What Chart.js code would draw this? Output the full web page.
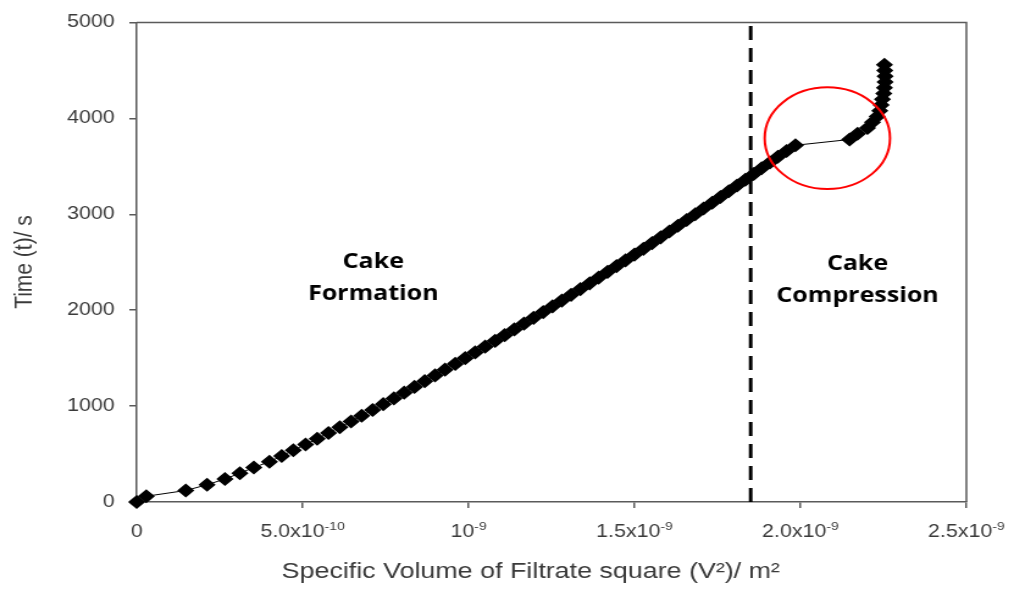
<!DOCTYPE html>
<html>
<head>
<meta charset="utf-8">
<script src="https://cdn.jsdelivr.net/npm/chart.js@4/dist/chart.umd.min.js"></script>
<style>
  html, body { margin: 0; padding: 0; background: #ffffff; overflow: hidden; }
  /* the figure is laid out narrower and widened horizontally */
  #wrap { position: absolute; left: 0; top: 0; width: 831px; height: 600px;
          transform: scaleX(1.2202); transform-origin: 0 0; }
</style>
</head>
<body>
<div id="wrap"><canvas id="c"></canvas></div>
<script>
// Filtration time t (s) against squared specific filtrate volume V² (m², in units of 1e-9)

// cake formation stage
const formationTime = [
  0, 60, 120, 180, 240, 300, 360, 420, 480, 540,
  600, 660, 720, 780, 840, 900, 960, 1020, 1080, 1140,
  1200, 1260, 1320, 1380, 1440, 1500, 1560, 1620, 1680, 1740,
  1800, 1860, 1920, 1980, 2040, 2100, 2160, 2220, 2280, 2340,
  2400, 2460, 2520, 2580, 2640, 2700, 2760, 2820, 2880, 2940,
  3000, 3060, 3120, 3180, 3240, 3300, 3360, 3420, 3480, 3540,
  3600, 3660, 3720
];
const formationVolSq = [
  0.000, 0.029, 0.148, 0.212, 0.266, 0.311, 0.353, 0.400, 0.437, 0.472,
  0.509, 0.544, 0.578, 0.612, 0.646, 0.678, 0.711, 0.743, 0.775, 0.806,
  0.837, 0.868, 0.899, 0.929, 0.960, 0.990, 1.020, 1.050, 1.080, 1.109,
  1.138, 1.167, 1.196, 1.225, 1.253, 1.281, 1.309, 1.337, 1.365, 1.392,
  1.419, 1.446, 1.473, 1.500, 1.527, 1.553, 1.579, 1.605, 1.631, 1.657,
  1.683, 1.708, 1.734, 1.759, 1.784, 1.809, 1.834, 1.859, 1.883, 1.908,
  1.932, 1.958, 1.985
];

// cake compression stage
const compressionTime = [
  3780, 3840, 3900, 3960, 4020, 4080, 4140, 4200, 4260, 4320, 4380, 4440, 4500, 4560
];
const compressionVolSq = [
  2.148, 2.172, 2.202, 2.217, 2.231, 2.239, 2.243, 2.247, 2.251, 2.253, 2.255, 2.255, 2.254, 2.253
];

// boundary between the two stages (m²)
const stageBoundary = [1.85e-9];

// axis ticks
const xTickValues = [0, 5e-10, 1e-9, 1.5e-9, 2e-9, 2.5e-9];
const xTickBase   = ['0', '5.0x10', '10', '1.5x10', '2.0x10', '2.5x10'];
const xTickExp    = ['', '-10', '-9', '-9', '-9', '-9'];
const yTickValues = [0, 1000, 2000, 3000, 4000, 5000];

// text
const xTitle = 'Specific Volume of Filtrate square (V\u00B2)/ m\u00B2';
const yTitle = 'Time (t)/ s';
const regionLabels = [
  { lines: ['Cake', 'Formation'],   x: 0.713e-9, y: 2330 },
  { lines: ['Cake', 'Compression'], x: 2.172e-9, y: 2315 }
];

// ring drawn around the jump between the stages (data units)
const ring = { cx: 2.081e-9, cy: 3794, rx: 0.1888e-9, ry: 530 };

const AXIS = '#5a5a5a';
const TEXT = '#3a3a3a';

const points = formationVolSq.map((v, i) => ({ x: v * 1e-9, y: formationTime[i] }))
  .concat(compressionVolSq.map((v, i) => ({ x: v * 1e-9, y: compressionTime[i] })));

const boundaryLine = [
  { x: stageBoundary[0], y: yTickValues[0] },
  { x: stageBoundary[0], y: yTickValues[yTickValues.length - 1] }
];

const decorations = {
  id: 'decorations',
  afterDatasetsDraw(chart) {
    const { ctx, scales: { x, y } } = chart;
    ctx.save();
    // red ring
    const cx = x.getPixelForValue(ring.cx), cy = y.getPixelForValue(ring.cy);
    const rx = Math.abs(x.getPixelForValue(ring.cx + ring.rx) - cx);
    const ry = Math.abs(y.getPixelForValue(ring.cy + ring.ry) - cy);
    ctx.beginPath();
    ctx.ellipse(cx, cy, rx, ry, 0, 0, Math.PI * 2);
    ctx.strokeStyle = '#ff0000';
    ctx.lineWidth = 2;
    ctx.stroke();
    // stage labels
    ctx.fillStyle = '#000000';
    ctx.font = '700 20.5px "Open Sans"';
    ctx.textAlign = 'center';
    ctx.textBaseline = 'middle';
    regionLabels.forEach(l => {
      const px = x.getPixelForValue(l.x), py = y.getPixelForValue(l.y);
      l.lines.forEach((s, i) => ctx.fillText(s, px, py + (i - (l.lines.length - 1) / 2) * 32));
    });
    ctx.restore();
  },
  afterDraw(chart) {
    const { ctx, chartArea: a, scales: { x } } = chart;
    ctx.save();
    // top and right edges of the plot frame
    ctx.strokeStyle = AXIS;
    ctx.lineWidth = 1.5;
    ctx.beginPath();
    ctx.moveTo(a.left, a.top);
    ctx.lineTo(a.right, a.top);
    ctx.lineTo(a.right, a.bottom);
    ctx.stroke();
    // x tick labels with raised exponents
    ctx.fillStyle = TEXT;
    ctx.textAlign = 'left';
    ctx.textBaseline = 'alphabetic';
    xTickValues.forEach((v, i) => {
      ctx.font = '17.5px "Liberation Sans"';
      const wb = ctx.measureText(xTickBase[i]).width;
      ctx.font = '11.5px "Liberation Sans"';
      const we = ctx.measureText(xTickExp[i]).width;
      const x0 = x.getPixelForValue(v) - (wb + we) / 2;
      ctx.font = '17.5px "Liberation Sans"';
      ctx.fillText(xTickBase[i], x0, 537);
      ctx.font = '11.5px "Liberation Sans"';
      ctx.fillText(xTickExp[i], x0 + wb, 530);
    });
    // axis titles
    ctx.textAlign = 'center';
    ctx.textBaseline = 'middle';
    ctx.font = '22px "Liberation Sans"';
    ctx.fillText(xTitle, 435, 572);
    ctx.translate(20, 262);
    ctx.rotate(-Math.PI / 2);
    ctx.font = '21px "Liberation Sans"';
    ctx.fillText(yTitle, 0, 0);
    ctx.restore();
  }
};

new Chart(document.getElementById('c'), {
  type: 'scatter',
  data: {
    datasets: [
      {
        data: boundaryLine,
        showLine: true,
        borderColor: '#000000',
        borderWidth: 3,
        borderDash: [14, 8],
        pointRadius: 0
      },
      {
        data: points,
        showLine: true,
        clip: false,
        borderColor: '#000000',
        borderWidth: 1,
        pointStyle: 'rectRot',
        pointRadius: 6,
        pointBackgroundColor: '#000000',
        pointBorderColor: '#000000',
        pointBorderWidth: 1.5
      }
    ]
  },
  options: {
    responsive: true,
    maintainAspectRatio: false,
    animation: false,
    layout: { padding: { top: 19, right: 39, bottom: 0, left: 0 } },
    plugins: { legend: { display: false }, tooltip: { enabled: false } },
    scales: {
      x: {
        type: 'linear',
        min: xTickValues[0],
        max: xTickValues[xTickValues.length - 1],
        afterBuildTicks: s => { s.ticks = xTickValues.map(v => ({ value: v })); },
        afterFit: s => { s.height = 98; },
        ticks: { display: false },
        grid: { display: true, drawOnChartArea: false, drawTicks: true, tickLength: 6, color: AXIS, lineWidth: 1.5 },
        border: { display: true, color: AXIS, width: 1.5 }
      },
      y: {
        min: yTickValues[0],
        max: yTickValues[yTickValues.length - 1],
        afterBuildTicks: s => { s.ticks = yTickValues.map(v => ({ value: v })); },
        afterFit: s => { s.width = 112; },
        ticks: {
          font: { family: 'Liberation Sans', size: 17.5 },
          color: TEXT,
          padding: 12,
          callback: v => String(v)
        },
        grid: { display: true, drawOnChartArea: false, drawTicks: true, tickLength: 6, color: AXIS, lineWidth: 1.5 },
        border: { display: true, color: AXIS, width: 1.5 }
      }
    }
  },
  plugins: [decorations]
});
</script>
</body>
</html>
